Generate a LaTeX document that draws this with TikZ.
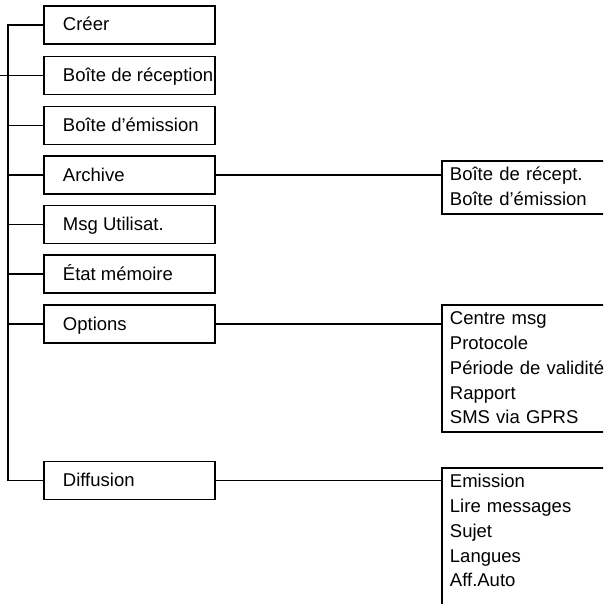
\documentclass[tikz,border=0pt]{standalone}
\usepackage{fontspec}
\setmainfont{Liberation Sans}
\newcommand{\mbx}[1]{\makebox[133pt][l]{#1}}
\newcommand{\topst}{\rule{0pt}{20pt}}
\newcommand{\botst}[1]{\rule[-#1]{0pt}{#1}}
\tikzset{
  conn/.style={line width=1.9pt},
  mainbox/.style={draw, line width=1.9pt, anchor=west, minimum width=171pt,
    minimum height=38pt, inner xsep=19pt, inner ysep=0pt, text height=13.5pt,
    text depth=1.5pt, font=\fontsize{18.5}{24.7}\selectfont},
  subbox/.style={draw, line width=1.9pt, anchor=north west, text width=200pt,
    align=left, inner xsep=8pt, inner ysep=0pt,
    font=\fontsize{18.5}{24.7}\selectfont}
}
\begin{document}
\begin{tikzpicture}[x=1pt,y=-1pt]
\useasboundingbox (0,0) rectangle (603,604);
\clip (0,0) rectangle (603,604);
% main column
\node[mainbox] (creer) at (43,25) {\mbx{Créer}};
\node[mainbox] (recep) at (43,75.5) {\mbx{Boîte de réception}};
\node[mainbox] (emis)  at (43,125.5) {\mbx{Boîte d’émission}};
\node[mainbox] (arch)  at (43,175) {\mbx{Archive}};
\node[mainbox] (msg)   at (43,224.5) {\mbx{Msg Utilisat.}};
\node[mainbox] (etat)  at (43,274) {\mbx{État mémoire}};
\node[mainbox] (opt)   at (43,324) {\mbx{Options}};
\node[mainbox] (diff)  at (43,480.5) {\mbx{Diffusion}};
% sub lists
\node[subbox] (asub) at (441,160) {\topst Boîte de récept.\\Boîte d’émission\botst{8pt}};
\node[subbox] (osub) at (441,304) {\topst Centre msg\\Protocole\\Période de validité\\Rapport\\SMS via GPRS\botst{8pt}};
\node[subbox] (dsub) at (441,467) {\topst Emission\\Lire messages\\Sujet\\Langues\\Aff.Auto\botst{40pt}};
% trunk
\coordinate (t) at (8,0);
\coordinate (s) at (0,75.5);
\draw[conn] (creer.west) -- (creer.west -| t) |- (diff.west);
\draw[conn] (s) -- (recep.west);
\draw[conn] (emis.west) -- (emis.west -| t);
\draw[conn] (arch.west) -- (arch.west -| t);
\draw[conn] (msg.west) -- (msg.west -| t);
\draw[conn] (etat.west) -- (etat.west -| t);
\draw[conn] (opt.west) -- (opt.west -| t);
% right connectors
\draw[conn] (arch.east) -- (arch.east -| asub.west);
\draw[conn] (opt.east) -- (opt.east -| osub.west);
\draw[conn] (diff.east) -- (diff.east -| dsub.west);
\end{tikzpicture}
\end{document}
